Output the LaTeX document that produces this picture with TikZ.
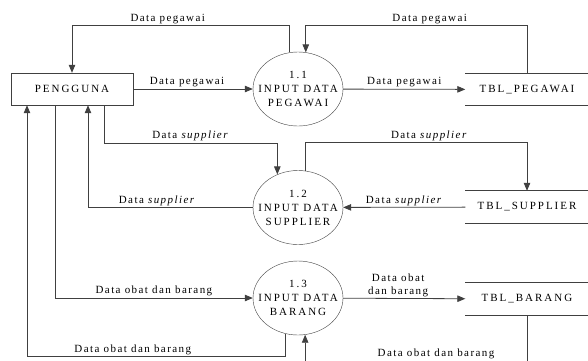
\documentclass[tikz,border=0pt]{standalone}
\usepackage{fontspec}
\setmainfont[LetterSpace=13]{Liberation Serif}
\newfontfamily\capsfont[LetterSpace=18]{Liberation Serif}
\usepackage{tikz}
\usetikzlibrary{shapes.geometric,arrows.meta}

\definecolor{linegray}{gray}{0.25}

\begin{document}
\begin{tikzpicture}[x=1pt,y=-1pt,
   font=\fontsize{11}{14}\selectfont,
   entity/.style={rectangle,draw=linegray,minimum width=122pt,minimum height=32pt,inner sep=0pt,
      font=\capsfont\fontsize{11}{14}\selectfont},
   process/.style={ellipse,draw=linegray,minimum width=90pt,minimum height=74pt,inner xsep=-14pt,inner ysep=0pt,
      align=center,font=\capsfont\fontsize{11}{14}\selectfont},
   store/.style={rectangle,minimum width=123pt,minimum height=32pt,inner sep=0pt,
      font=\capsfont\fontsize{11}{14}\selectfont},
   flow/.style={draw=linegray,line width=0.8pt,-{Triangle[length=8pt,width=6.5pt]}},
   lbl/.style={inner sep=1.5pt,above}]
   \path[clip,use as bounding box] (0,0) rectangle (588,360);
   % external entity
   \node[entity] (user) at (72,89) {PENGGUNA};
   % processes 1.1 - 1.3
   \foreach \n/\y/\name in {1/89/PEGAWAI,2/207.5/SUPPLIER,3/298/BARANG}
      \node[process] (p\n) at (298,\y) {1.\n\\INPUT DATA\\\name};
   % data stores: open boxes, only top and bottom lines
   \foreach \id/\y/\name in {peg/89.5/PEGAWAI,sup/207/SUPPLIER,brg/299/BARANG}{
      \node[store] (\id) at (527,\y) {TBL\_\name};
      \draw[linegray,line width=0.8pt] (\id.north west) -- (\id.north east) (\id.south west) -- (\id.south east);
   }
   % pegawai flows
   \draw[flow] (p1.103) -- ++(0,-27) -| node[lbl,pos=0.28]{Data pegawai} (user.north);
   \draw[flow] (user) -- node[lbl,pos=0.45]{Data pegawai} (p1);
   \draw[flow] (peg.north) -- ++(0,-48) -| node[lbl,pos=0.22]{Data pegawai} (p1.78);
   \draw[flow] (p1) -- node[lbl]{Data pegawai} (peg);
   % supplier flows
   \draw[flow] ([xshift=32pt]user.south) -- ++(0,38) -| node[lbl,pos=0.25]{Data \textit{supplier}} (p2.122);
   \draw[flow] (p2) -| node[lbl,pos=0.29]{Data \textit{supplier}} ([xshift=16pt]user.south);
   \draw[flow] (p2.79) -- ++(0,-28) -| node[lbl,pos=0.28]{Data \textit{supplier}} (sup.north);
   \draw[flow] (sup) -- node[lbl]{Data \textit{supplier}} (p2);
   % obat dan barang flows
   \draw[flow] ([xshift=-17pt]user.south) |- node[lbl,pos=0.75]{Data obat dan barang} (p3);
   \draw[flow] (p3.-110) -- ++(0,23) -| node[lbl,pos=0.295]{Data obat dan barang} ([xshift=-45pt]user.south);
   \draw[flow] (p3) -- node[lbl,pos=0.45,align=center,font=\fontsize{11}{13}\selectfont]{Data obat\\dan barang} (brg);
   \draw[flow] (brg.south) -- ++(0,47) -| node[lbl,pos=0.205,inner sep=3pt]{Data obat dan barang} (p3.-79);
\end{tikzpicture}
\end{document}
